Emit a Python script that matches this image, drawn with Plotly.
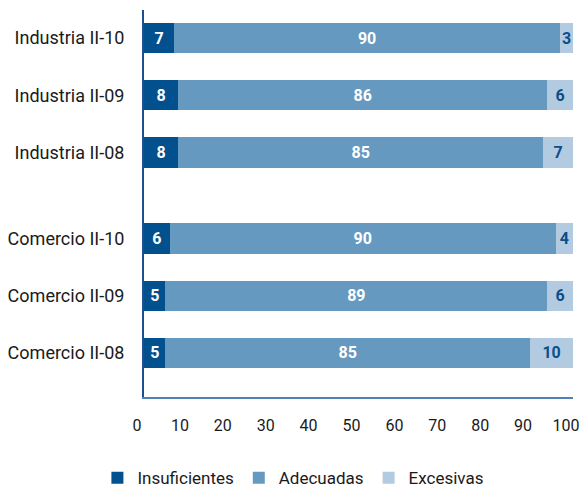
import plotly.graph_objects as go

categories = ["Industria II-10", "Industria II-09", "Industria II-08",
              "Comercio II-10", "Comercio II-09", "Comercio II-08"]
positions = [0, 1, 2, 3.5, 4.5, 5.5]
insuficientes = [7, 8, 8, 6, 5, 5]
adecuadas = [90, 86, 85, 90, 89, 85]
excesivas = [3, 6, 7, 4, 6, 10]
x_ticks = [0, 10, 20, 30, 40, 50, 60, 70, 80, 90, 100]

series = [
    ("Insuficientes", insuficientes, "#03508f", "white"),
    ("Adecuadas", adecuadas, "#6699bf", "white"),
    ("Excesivas", excesivas, "#b3cbe0", "#0a4e8c"),
]

fig = go.Figure()
for name, vals, color, tcolor in series:
    fig.add_trace(go.Bar(
        y=positions, x=vals, name=name, orientation="h",
        marker=dict(color=color, line=dict(width=0)),
        width=0.53,
        text=[str(v) for v in vals], textposition="inside",
        insidetextanchor="middle", textangle=0,
        textfont=dict(family="Roboto", size=16, color=tcolor, weight="bold"),
        cliponaxis=False,
    ))

fig.update_layout(
    barmode="stack",
    width=581, height=488,
    margin=dict(l=144, r=8, t=10, b=91, autoexpand=False),
    paper_bgcolor="white", plot_bgcolor="white",
    font=dict(family="Roboto", size=17, color="#1a1a1a"),
    uniformtext=dict(minsize=16, mode="show"),
    showlegend=True,
    legend=dict(orientation="h", xref="container", yref="container",
                x=0.505, xanchor="center", y=0.02, yanchor="middle",
                font=dict(size=17, color="#1a1a1a"),
                traceorder="normal", itemwidth=30),
    xaxis=dict(range=[0, 100], tickvals=x_ticks, showgrid=False,
               zeroline=False, showline=True, linecolor="#4f81b8", linewidth=2,
               ticks="", ticklabelstandoff=13, tickfont=dict(size=16),
               ticklabeloverflow="allow", ticklabelshift=-7, automargin=False),
    yaxis=dict(range=[6.27, -0.49], tickvals=positions, ticktext=categories,
               showgrid=False, zeroline=False, showline=True,
               linecolor="#1f4e8c", linewidth=2, ticks="", automargin=False,
               ticklabelstandoff=14, tickfont=dict(size=18)),
)

fig.write_html("out.html", config={"displayModeBar": False},
               post_script="document.body.style.margin='0';")
